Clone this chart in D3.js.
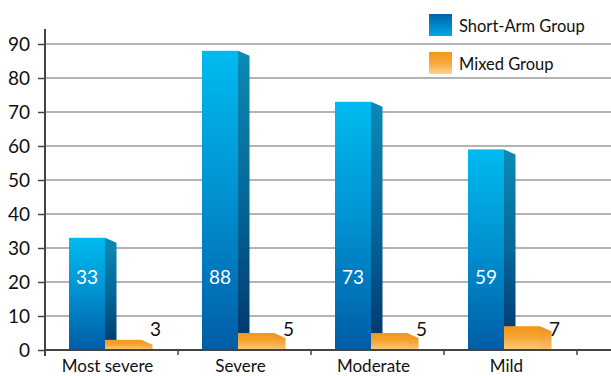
<!DOCTYPE html>
<html>
<head>
<meta charset="utf-8">
<script src="https://cdn.jsdelivr.net/npm/d3@7"></script>
<style>
  html, body { margin: 0; padding: 0; background: #fff; }
  svg { display: block; }
  text { font-family: Lato, "Open Sans", sans-serif; fill: #111; }
</style>
</head>
<body>
<svg id="chart" width="611" height="376"></svg>
<script>
// Severity categories and counts per treatment group
const categories = ["Most severe", "Severe", "Moderate", "Mild"];
const shortArm = [33, 88, 73, 59];
const mixed = [3, 5, 5, 7];
const seriesNames = ["Short-Arm Group", "Mixed Group"];
const yTicks = [0, 10, 20, 30, 40, 50, 60, 70, 80, 90];

const svg = d3.select("#chart");
const W = 611;
const x0 = d3.scaleBand().domain(categories).range([45, 577]).padding(0);
const y = d3.scaleLinear().domain([0, 90]).range([350, 44]);

// bar geometry inside each band
const frontW = 36, sideW = 11.5, sideDrop = 5, groupOffset = 24;
const x1 = d3.scaleBand().domain(seriesNames).range([groupOffset, groupOffset + frontW * 2]).padding(0);

const defs = svg.append("defs");
function grad(id, stops) {
  const g = defs.append("linearGradient").attr("id", id)
    .attr("x1", 0).attr("y1", 0).attr("x2", 0).attr("y2", 1);
  stops.forEach(([o, c]) => g.append("stop").attr("offset", o).attr("stop-color", c));
}
grad("blueFront", [[0, "#00bbf0"], [0.5, "#0190d0"], [1, "#005da6"]]);
grad("blueSide", [[0, "#0b8ab4"], [0.5, "#05679a"], [1, "#01356a"]]);
grad("orangeFront", [[0, "#f39619"], [0.45, "#f5a433"], [1, "#fdca7e"]]);
grad("orangeSide", [[0, "#f0901a"], [0.45, "#f3a235"], [1, "#fcc47a"]]);
grad("blueKey", [[0, "#0064ad"], [1, "#00a8e6"]]);
grad("orangeKey", [[0, "#f39619"], [0.5, "#f5a83c"], [1, "#fdd393"]]);

// horizontal grid
svg.append("g")
  .selectAll("line").data(yTicks.filter(d => d > 0)).join("line")
  .attr("x1", 45).attr("x2", W)
  .attr("y1", d => y(d)).attr("y2", d => y(d))
  .attr("stroke", "#9a9a9a").attr("stroke-width", 1.3);

// y axis
const yAxis = svg.append("g").attr("transform", "translate(45,0)")
  .call(d3.axisLeft(y).tickValues(yTicks).tickSize(7).tickPadding(8));
yAxis.select(".domain").remove();
yAxis.selectAll(".tick line").attr("stroke", "#444").attr("stroke-width", 1.5);
yAxis.selectAll(".tick text").attr("font-size", 19).attr("font-family", "Lato, 'Open Sans', sans-serif").attr("fill", "#111").attr("dy", "0.36em");
svg.append("line").attr("x1", 45).attr("x2", 45).attr("y1", 29).attr("y2", 356)
  .attr("stroke", "#444").attr("stroke-width", 2);

// bars
const groups = svg.append("g").selectAll("g").data(categories).join("g")
  .attr("transform", d => `translate(${x0(d)},0)`);

function drawBar(sel, values, series, frontFill, sideFill) {
  const bx = x1(series), bw = x1.bandwidth();
  sel.append("path")
    .attr("d", (d, i) => {
      const top = y(values[i]), base = y(0);
      return `M${bx + bw},${top} L${bx + bw + sideW},${top + sideDrop} L${bx + bw + sideW},${base} L${bx + bw},${base} Z`;
    })
    .attr("fill", `url(#${sideFill})`);
  sel.append("rect")
    .attr("x", bx).attr("width", bw)
    .attr("y", (d, i) => y(values[i]))
    .attr("height", (d, i) => y(0) - y(values[i]))
    .attr("fill", `url(#${frontFill})`);
}
drawBar(groups, shortArm, seriesNames[0], "blueFront", "blueSide");
drawBar(groups, mixed, seriesNames[1], "orangeFront", "orangeSide");

// value labels
groups.append("text")
  .attr("x", x1(seriesNames[0]) + x1.bandwidth() / 2)
  .attr("y", 284)
  .attr("text-anchor", "middle")
  .attr("font-size", 19)
  .style("fill", "#fff")
  .text((d, i) => shortArm[i]);
groups.append("text")
  .attr("x", x1(seriesNames[1]) + x1.bandwidth() + sideW + 3)
  .attr("y", 336)
  .attr("text-anchor", "middle")
  .attr("font-size", 19)
  .text((d, i) => mixed[i]);

// x axis
svg.append("line").attr("x1", 45).attr("x2", W).attr("y1", 350).attr("y2", 350)
  .attr("stroke", "#444").attr("stroke-width", 2);
svg.append("g").selectAll("line").data(categories.slice(1).concat(["end"])).join("line")
  .attr("x1", (d, i) => 45 + x0.bandwidth() * (i + 1))
  .attr("x2", (d, i) => 45 + x0.bandwidth() * (i + 1))
  .attr("y1", 350).attr("y2", 355)
  .attr("stroke", "#444").attr("stroke-width", 1.5);
svg.append("g").selectAll("text").data(categories).join("text")
  .attr("x", d => x0(d) + x0.bandwidth() / 2 - 4)
  .attr("y", 372)
  .attr("text-anchor", "middle")
  .attr("font-size", 17)
  .text(d => d);

// legend
const legend = svg.append("g").selectAll("g").data(seriesNames).join("g")
  .attr("transform", (d, i) => `translate(429,${14 + i * 38})`);
legend.append("rect").attr("width", 23).attr("height", 22)
  .attr("fill", (d, i) => i === 0 ? "url(#blueKey)" : "url(#orangeKey)");
legend.append("text").attr("x", 30).attr("y", 18).attr("font-size", 16.5).text(d => d);
</script>
</body>
</html>
